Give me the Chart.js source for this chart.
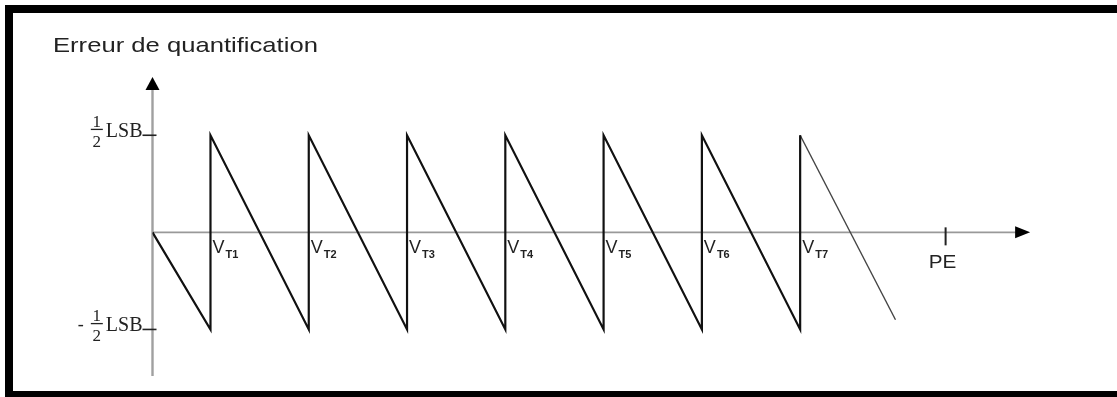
<!DOCTYPE html>
<html>
<head>
<meta charset="utf-8">
<script src="https://cdn.jsdelivr.net/npm/chart.js@4.4.0/dist/chart.umd.min.js"></script>
<style>
  html, body { margin: 0; padding: 0; background: #fff; }
  canvas { display: block; }
</style>
</head>
<body>
<canvas id="errChart" width="1117" height="397"></canvas>
<script>
// Quantification error (x in LSB steps, y in LSB)
const errX = [0, 0.59, 0.59, 1.59, 1.59, 2.59, 2.59, 3.59, 3.59, 4.59, 4.59, 5.59, 5.59, 6.59, 6.59];
const errY = [0, -0.5, 0.5, -0.5, 0.5, -0.5, 0.5, -0.5, 0.5, -0.5, 0.5, -0.5, 0.5, -0.5, 0.5];

// after the last transition the error keeps falling (thin line)
const tailX = [6.59, 7.56];
const tailY = [0.5, -0.45];

// transition points V_T1 .. V_T7
const vtX = [0.59, 1.59, 2.59, 3.59, 4.59, 5.59, 6.59];
const vtSub = ["T1", "T2", "T3", "T4", "T5", "T6", "T7"];

// full scale mark
const peX = 8.07;
const peText = "PE";

// y ticks: +1/2 LSB and -1/2 LSB
const yTicks = [0.5, -0.5];
const yTickSign = ["", "-"];

const titleText = "Erreur de quantification";

// axis extents
const xAxisEnd = 8.93;
const yAxisTop = 0.8;
const yAxisBottom = -0.74;

function arrow(ctx, tipX, tipY, dir) {
    ctx.beginPath();
    if (dir === "up") {
        ctx.moveTo(tipX, tipY);
        ctx.lineTo(tipX - 7, tipY + 13);
        ctx.lineTo(tipX + 7, tipY + 13);
    } else {
        ctx.moveTo(tipX, tipY);
        ctx.lineTo(tipX - 15, tipY - 6);
        ctx.lineTo(tipX - 15, tipY + 6);
    }
    ctx.closePath();
    ctx.fill();
}

const sketchPlugin = {
    id: "sketch",
    beforeDraw(chart) {
        const ctx = chart.ctx;
        ctx.save();
        ctx.fillStyle = "#fff";
        ctx.fillRect(0, 0, chart.width, chart.height);
        // black frame (no right side)
        ctx.fillStyle = "#000";
        ctx.fillRect(5, 5, chart.width - 5, 8);
        ctx.fillRect(5, 5, 8, chart.height - 5);
        ctx.fillRect(5, 391, chart.width - 5, 6);
        ctx.restore();
    },
    beforeDatasetsDraw(chart) {
        const ctx = chart.ctx;
        const xs = chart.scales.x;
        const ys = chart.scales.y;
        const x0 = xs.getPixelForValue(0);
        const y0 = ys.getPixelForValue(0);
        ctx.save();
        ctx.strokeStyle = "#a0a0a0";
        ctx.lineWidth = 2.4;
        // y axis
        const yTop = ys.getPixelForValue(yAxisTop);
        ctx.beginPath();
        ctx.moveTo(x0, ys.getPixelForValue(yAxisBottom));
        ctx.lineTo(x0, yTop + 10);
        ctx.stroke();
        // x axis
        const xEnd = xs.getPixelForValue(xAxisEnd);
        ctx.strokeStyle = "#999";
        ctx.lineWidth = 1.8;
        ctx.beginPath();
        ctx.moveTo(x0, y0);
        ctx.lineTo(xEnd - 12, y0);
        ctx.stroke();
        ctx.fillStyle = "#000";
        arrow(ctx, x0, yTop, "up");
        arrow(ctx, xEnd, y0, "right");

        // y ticks
        ctx.strokeStyle = "#222";
        ctx.lineWidth = 1.6;
        yTicks.forEach((v) => {
            const yp = ys.getPixelForValue(v);
            ctx.beginPath();
            ctx.moveTo(x0 - 10, yp);
            ctx.lineTo(x0 + 4, yp);
            ctx.stroke();
        });

        // PE tick
        const pe = xs.getPixelForValue(peX);
        ctx.lineWidth = 2;
        ctx.beginPath();
        ctx.moveTo(pe, y0 - 5);
        ctx.lineTo(pe, y0 + 13);
        ctx.stroke();
        ctx.restore();
    },
    afterDraw(chart) {
        const ctx = chart.ctx;
        const xs = chart.scales.x;
        const ys = chart.scales.y;
        const x0 = xs.getPixelForValue(0);
        const y0 = ys.getPixelForValue(0);
        ctx.save();
        ctx.fillStyle = "#222";
        ctx.textBaseline = "alphabetic";

        // title
        ctx.save();
        ctx.font = "21px 'Liberation Sans', Arial, sans-serif";
        ctx.translate(53, 52);
        ctx.scale(1.22, 1);
        ctx.textAlign = "left";
        ctx.fillText(titleText, 0, 0);
        ctx.restore();

        // y tick labels: [-] 1/2 LSB
        yTicks.forEach((v, i) => {
            const yp = ys.getPixelForValue(v);
            ctx.font = "20px 'Liberation Serif', 'Times New Roman', serif";
            ctx.textAlign = "right";
            const lsbRight = x0 - 10;
            ctx.fillText("LSB", lsbRight, yp + 2);
            const lsbW = ctx.measureText("LSB").width;
            const fc = lsbRight - lsbW - 9;
            ctx.font = "17px 'Liberation Serif', 'Times New Roman', serif";
            ctx.textAlign = "center";
            ctx.fillText("1", fc, yp - 8);
            ctx.fillText("2", fc, yp + 12);
            ctx.fillRect(fc - 6, yp - 6.5, 12, 1.3);
            if (yTickSign[i]) {
                ctx.font = "18px 'Liberation Serif', 'Times New Roman', serif";
                ctx.fillText(yTickSign[i], fc - 16, yp + 1);
            }
        });

        // V_Ti labels
        vtX.forEach((v, i) => {
            const xp = xs.getPixelForValue(v) + 2;
            ctx.textAlign = "left";
            ctx.font = "18px 'Liberation Sans', Arial, sans-serif";
            ctx.fillText("V", xp, y0 + 21);
            const w = ctx.measureText("V").width;
            ctx.font = "bold 11px 'Liberation Sans', Arial, sans-serif";
            ctx.fillText(vtSub[i], xp + w + 1, y0 + 26);
        });

        // PE label
        const pe = xs.getPixelForValue(peX);
        ctx.save();
        ctx.font = "18px 'Liberation Sans', Arial, sans-serif";
        ctx.translate(pe - 3, y0 + 35.5);
        ctx.scale(1.15, 1);
        ctx.textAlign = "center";
        ctx.fillText(peText, 0, 0);
        ctx.restore();

        ctx.restore();
    }
};

const ctx = document.getElementById("errChart").getContext("2d");
new Chart(ctx, {
    type: "line",
    data: {
        datasets: [
            {
                data: errX.map((x, i) => ({ x: x, y: errY[i] })),
                borderColor: "#111",
                borderWidth: 2.2,
                pointRadius: 0,
                tension: 0,
                fill: false,
            },
            {
                data: tailX.map((x, i) => ({ x: x, y: tailY[i] })),
                borderColor: "#444",
                borderWidth: 1.4,
                pointRadius: 0,
                tension: 0,
                fill: false,
            },
        ],
    },
    options: {
        responsive: false,
        animation: false,
        layout: { padding: { left: 152.5, right: 80, top: 77, bottom: 19 } },
        plugins: {
            legend: { display: false },
            tooltip: { enabled: false },
        },
        scales: {
            x: { type: "linear", min: 0, max: 9, display: false },
            y: { type: "linear", min: -0.75, max: 0.8, display: false },
        },
    },
    plugins: [sketchPlugin],
});
</script>
</body>
</html>
